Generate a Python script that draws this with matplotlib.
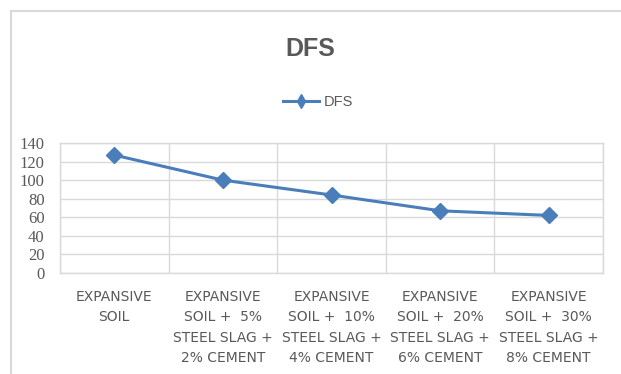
import matplotlib
matplotlib.use("Agg")
import matplotlib.pyplot as plt
from matplotlib.lines import Line2D

categories = [
    "EXPANSIVE\nSOIL",
    "EXPANSIVE\nSOIL +  5%\nSTEEL SLAG +\n2% CEMENT",
    "EXPANSIVE\nSOIL +  10%\nSTEEL SLAG +\n4% CEMENT",
    "EXPANSIVE\nSOIL +  20%\nSTEEL SLAG +\n6% CEMENT",
    "EXPANSIVE\nSOIL +  30%\nSTEEL SLAG +\n8% CEMENT",
]
dfs_values = [127, 100, 84, 67, 62]
y_ticks = [0, 20, 40, 60, 80, 100, 120, 140]

line_color = "#4a7ebb"
text_color = "#595959"
grid_color = "#d9d9d9"

sans = ["Liberation Sans", "DejaVu Sans"]

fig = plt.figure(figsize=(6.21, 3.74), dpi=100)
ax = fig.add_axes([60 / 621, 1 - 273 / 374, 543 / 621, 130 / 374])

x = list(range(len(categories)))
ax.plot(x, dfs_values, color=line_color, linewidth=2.2, marker="D",
        markersize=8, markerfacecolor=line_color, markeredgecolor=line_color,
        label="DFS", zorder=3)

ax.set_xlim(-0.5, len(categories) - 0.5)
ax.set_ylim(0, 140)
ax.set_yticks(y_ticks)
ax.set_yticklabels([str(v) for v in y_ticks], family=["Liberation Serif", "DejaVu Serif"],
                   fontsize=12, color=text_color)
ax.set_xticks(x)
ax.set_xticklabels(categories, fontsize=10, color=text_color, linespacing=1.6)
ax.set_xticks([i - 0.5 for i in range(len(categories) + 1)], minor=True)
ax.tick_params(axis="both", which="both", length=0)
ax.tick_params(axis="y", pad=11)
ax.tick_params(axis="x", pad=12)

ax.grid(True, axis="y", color=grid_color, linewidth=1.0)
ax.grid(True, axis="x", which="minor", color=grid_color, linewidth=1.0)
ax.grid(False, axis="x", which="major")
for s in ax.spines.values():
    s.set_color(grid_color)
    s.set_linewidth(1.0)

fig.text(0.5, 1 - 49 / 374, "DFS", ha="center", va="center", fontsize=18,
         fontweight="bold", color=text_color, family=sans)

handle = Line2D([], [], color=line_color, linewidth=2.2, marker="d", markersize=7,
                markerfacecolor=line_color, markeredgecolor=line_color)
fig.legend([handle], ["DFS"], loc="center", bbox_to_anchor=(318 / 621, 1 - 102 / 374),
           frameon=False, handlelength=2.5, handletextpad=0.3,
           prop={"family": sans, "size": 10.5}, labelcolor=text_color)

# outer chart border (left and top)
fig.add_artist(Line2D([11 / 621, 11 / 621], [0, 1 - 11 / 374], transform=fig.transFigure,
                      color=grid_color, linewidth=1.5))
fig.add_artist(Line2D([11 / 621, 1], [1 - 11 / 374, 1 - 11 / 374], transform=fig.transFigure,
                      color=grid_color, linewidth=1.5))

fig.savefig("out.png", dpi=100)
